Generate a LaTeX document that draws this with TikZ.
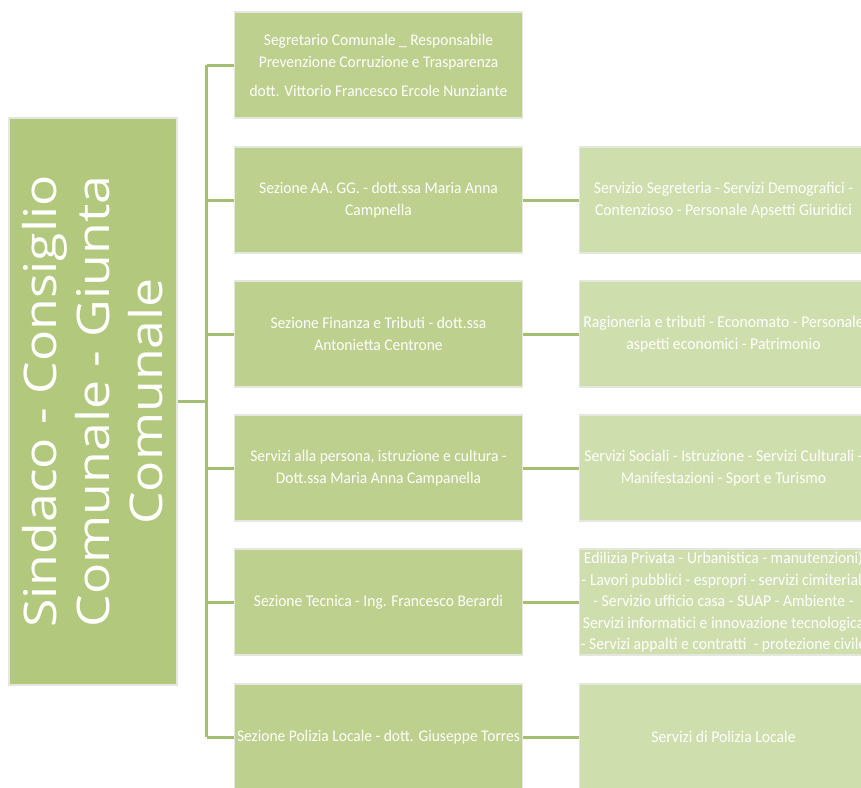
\documentclass[tikz,border=0pt]{standalone}
\usepackage{fontspec}
\setmainfont{Carlito}
\newfontfamily\boxfont[FakeStretch=0.95]{Carlito}
\newfontfamily\titlefont[FakeStretch=1.15]{Open Sans}
\definecolor{mainfill}{RGB}{178,200,124}
\definecolor{midfill}{RGB}{189,208,141}
\definecolor{rightfill}{RGB}{207,222,173}
\definecolor{boxline}{RGB}{228,231,222}
\definecolor{linkcol}{RGB}{165,189,116}
\tikzset{
  basebox/.style={rectangle, draw=boxline, line width=1.3pt, text=white, align=center, inner sep=0pt},
  mainbox/.style={basebox, fill=mainfill, minimum width=168pt, minimum height=567pt},
  midbox/.style={basebox, fill=midfill, minimum width=288pt, minimum height=106pt,
     font=\boxfont\fontsize{16.3}{22}\selectfont},
  rightbox/.style={basebox, fill=rightfill, minimum width=288pt, minimum height=106pt,
     font=\boxfont\fontsize{16.5}{21.5}\selectfont},
  link/.style={draw=linkcol, line width=3pt}
}
\begin{document}
\begin{tikzpicture}[x=1pt,y=-1pt]
\useasboundingbox (0,0) rectangle (861,787);
\clip (0,0) rectangle (861,787);
\fill[white] (0,0) rectangle (861,787);
% main box
\node[mainbox] (main) at (93,401.5) {};
\node[text=white, rotate=90, align=center, font=\titlefont\fontsize{45}{53}\selectfont] (maintext) at (main.center)
  {Sindaco - Consiglio\\Comunale - Giunta\\Comunale};
% middle boxes
\node[midbox] (m1) at (378.5,65) {Segretario Comunale \_ Responsabile\\Prevenzione Corruzione e Trasparenza\\[7pt]dott. Vittorio Francesco Ercole Nunziante};
\node[midbox] (m2) at (378.5,200) {Sezione AA. GG. - dott.ssa Maria Anna\\Campnella};
\node[midbox] (m3) at (378.5,334) {Sezione Finanza e Tributi - dott.ssa\\Antonietta Centrone};
\node[midbox] (m4) at (378.5,468) {Servizi alla persona, istruzione e cultura -\\Dott.ssa Maria Anna Campanella};
\node[midbox] (m5) at (378.5,602) {Sezione Tecnica - Ing. Francesco Berardi};
\node[midbox] (m6) at (378.5,737) {Sezione Polizia Locale - dott. Giuseppe Torres};
% right boxes
\node[rightbox] (r2) at (723.5,200) {Servizio Segreteria - Servizi Demografici -\\Contenzioso - Personale Apsetti Giuridici};
\node[rightbox] (r3) at (723.5,334) {Ragioneria e tributi - Economato - Personale\\aspetti economici - Patrimonio};
\node[rightbox] (r4) at (723.5,468) {Servizi Sociali - Istruzione - Servizi Culturali -\\Manifestazioni - Sport e Turismo};
\node[rightbox] (r5) at (723.5,602) {Edilizia Privata - Urbanistica - manutenzioni)\\- Lavori pubblici - espropri - servizi cimiteriali\\- Servizio ufficio casa - SUAP - Ambiente -\\Servizi informatici e innovazione tecnologica\\- Servizi appalti e contratti \ - protezione civile};
\node[rightbox] (r6) at (723.5,737) {Servizi di Polizia Locale};
% connectors
\coordinate (tr) at (206.5,401.5);
\draw[link] (main.east) -- (tr);
\draw[link] (tr |- m1.west) -- (tr |- m6.west);
\foreach \i in {1,...,6} {
  \draw[link] (tr |- m\i.west) -- (m\i.west);
}
\foreach \i in {2,...,6} {
  \draw[link] (m\i.east) -- (r\i.west);
}
\end{tikzpicture}
\end{document}
